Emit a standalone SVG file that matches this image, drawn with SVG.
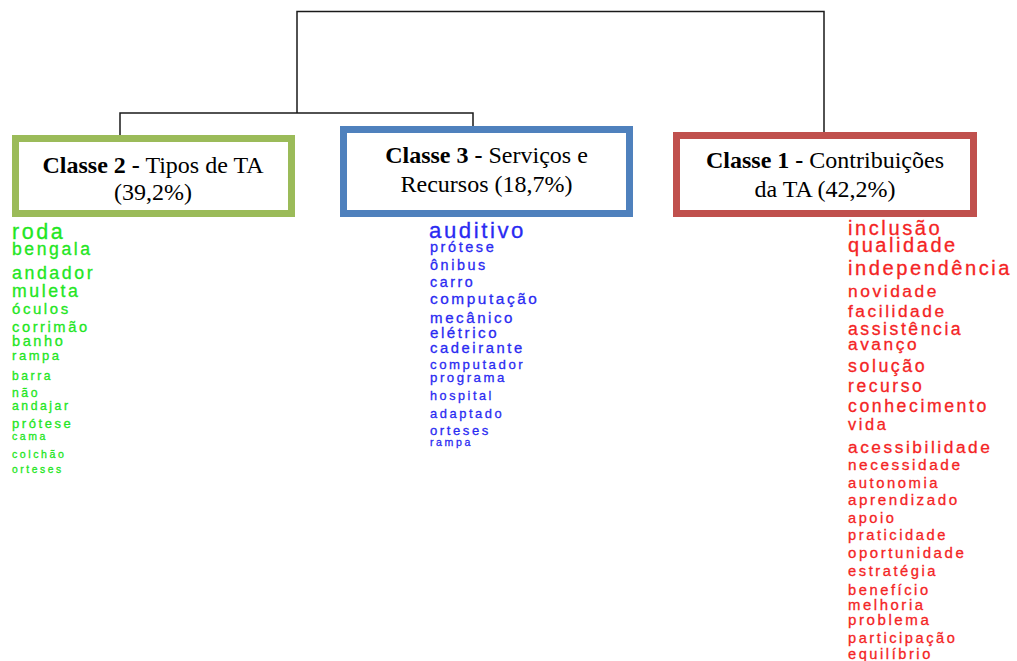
<svg xmlns="http://www.w3.org/2000/svg" width="1017" height="661" viewBox="0 0 1017 661">
<style>
.bg{fill:#ffffff}
.box{fill:#ffffff;stroke-width:7}
.lbl{font-family:"Liberation Serif","Times New Roman",serif;font-size:24px;fill:#000;text-anchor:middle}
.lbl .b{font-weight:bold}
.conn{fill:none;stroke:#1a1a1a;stroke-width:1.5}
.w{font-family:"Liberation Sans",Arial,sans-serif;letter-spacing:0.16em;stroke-width:0.3}
.wg{fill:#22e622;stroke:#22e622}
.wb{fill:#2a2af2;stroke:#2a2af2}
.wr{fill:#f42424;stroke:#f42424}
</style>
<rect class="bg" x="0" y="0" width="1017" height="661"/>
<g id="connectors">
<path class="conn" d="M120,135 V113 H473 V126"/>
<path class="conn" d="M297,113 V11.5 H824 V132"/>
</g>
<g id="classe2">
<rect class="box" x="15.5" y="138.5" width="276" height="75" stroke="#9bbb59"/>
<text class="lbl" x="153" y="173"><tspan class="b">Classe 2 -</tspan> Tipos de TA</text>
<text class="lbl" x="153" y="200">(39,2%)</text>
</g>
<g id="classe3">
<rect class="box" x="343.5" y="129.5" width="286" height="84" stroke="#4f81bd"/>
<text class="lbl" x="486.5" y="163"><tspan class="b">Classe 3 -</tspan> Serviços e</text>
<text class="lbl" x="486.5" y="192">Recursos (18,7%)</text>
</g>
<g id="classe1">
<rect class="box" x="676.5" y="135.5" width="297" height="78" stroke="#c0504d"/>
<text class="lbl" x="825" y="168"><tspan class="b">Classe 1 -</tspan> Contribuições</text>
<text class="lbl" x="825" y="197">da TA (42,2%)</text>
</g>
<g id="classe2-words" class="w wg">
<text x="12" y="239" font-size="21.5">roda</text>
<text x="12" y="255" font-size="17.6">bengala</text>
<text x="12" y="279" font-size="17.8">andador</text>
<text x="12" y="297" font-size="17.7">muleta</text>
<text x="12" y="314" font-size="15">óculos</text>
<text x="12" y="332" font-size="14.7">corrimão</text>
<text x="12" y="346" font-size="14.6">banho</text>
<text x="12" y="360" font-size="13">rampa</text>
<text x="12" y="380" font-size="12.1">barra</text>
<text x="12" y="397" font-size="12.2">não</text>
<text x="12" y="410" font-size="12.2">andajar</text>
<text x="12" y="428" font-size="13">prótese</text>
<text x="12" y="440" font-size="10.5">cama</text>
<text x="12" y="458" font-size="10.6">colchão</text>
<text x="12" y="473" font-size="10.3">orteses</text>
</g>
<g id="classe3-words" class="w wb">
<text x="429" y="238" font-size="22.2">auditivo</text>
<text x="430" y="252" font-size="14.5">prótese</text>
<text x="430" y="270" font-size="14.4">ônibus</text>
<text x="430" y="287" font-size="14.3">carro</text>
<text x="430" y="304" font-size="15.4">computação</text>
<text x="430" y="323" font-size="15.1">mecânico</text>
<text x="430" y="338" font-size="15.1">elétrico</text>
<text x="430" y="353" font-size="14.8">cadeirante</text>
<text x="430" y="369" font-size="13.2">computador</text>
<text x="430" y="382" font-size="13.2">programa</text>
<text x="430" y="400" font-size="12.6">hospital</text>
<text x="430" y="418" font-size="12.9">adaptado</text>
<text x="430" y="435" font-size="13.1">orteses</text>
<text x="430" y="446" font-size="10.6">rampa</text>
</g>
<g id="classe1-words" class="w wr">
<text x="848" y="235" font-size="20.1">inclusão</text>
<text x="848" y="252" font-size="20">qualidade</text>
<text x="848" y="275" font-size="20.1">independência</text>
<text x="848" y="297" font-size="17.4">novidade</text>
<text x="848" y="317" font-size="17.3">facilidade</text>
<text x="848" y="335" font-size="17.6">assistência</text>
<text x="848" y="350" font-size="17.3">avanço</text>
<text x="848" y="372" font-size="17.8">solução</text>
<text x="848" y="392" font-size="17.5">recurso</text>
<text x="848" y="412" font-size="17.7">conhecimento</text>
<text x="848" y="430" font-size="16.4">vida</text>
<text x="848" y="453" font-size="17.3">acessibilidade</text>
<text x="848" y="470" font-size="15.4">necessidade</text>
<text x="848" y="488" font-size="14.8">autonomia</text>
<text x="848" y="505" font-size="15.2">aprendizado</text>
<text x="848" y="523" font-size="14.6">apoio</text>
<text x="848" y="540" font-size="14.7">praticidade</text>
<text x="848" y="558" font-size="15">oportunidade</text>
<text x="848" y="576" font-size="14.7">estratégia</text>
<text x="848" y="595" font-size="14.7">benefício</text>
<text x="848" y="610" font-size="14.9">melhoria</text>
<text x="848" y="625" font-size="15.1">problema</text>
<text x="848" y="643" font-size="14.6">participação</text>
<text x="848" y="659" font-size="14.6">equilíbrio</text>
</g>
</svg>
